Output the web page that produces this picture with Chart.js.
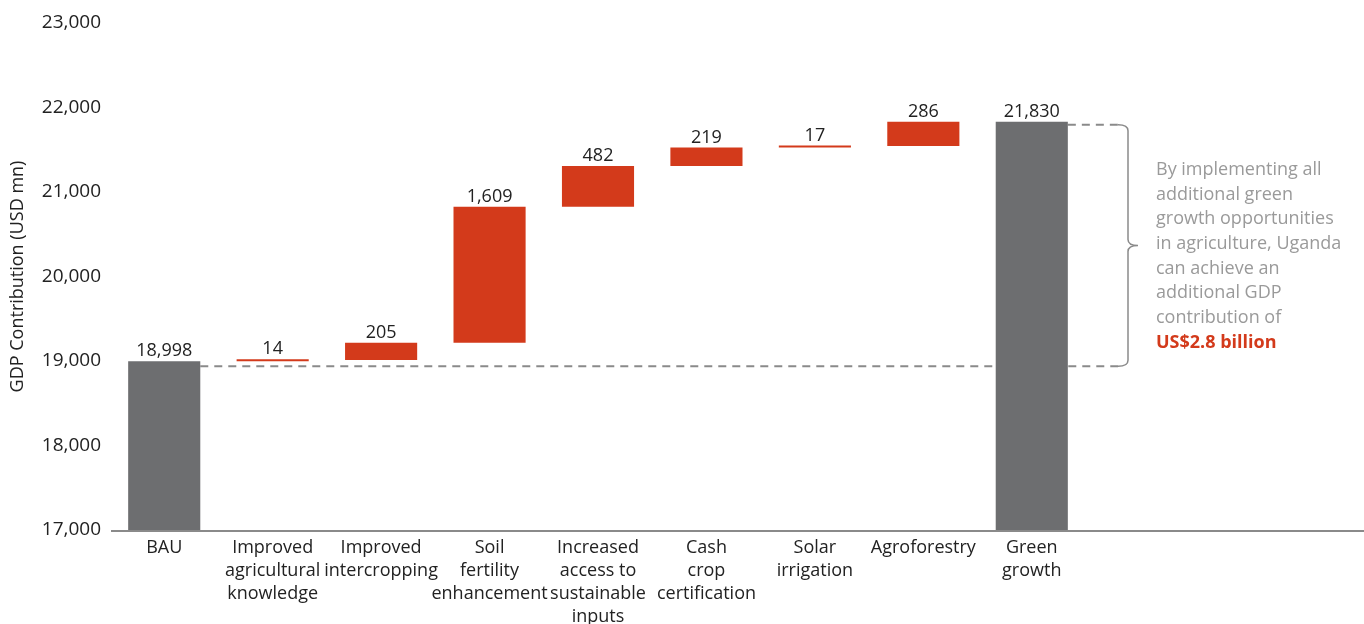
<!DOCTYPE html>
<html>
<head>
<meta charset="utf-8">
<script src="https://cdn.jsdelivr.net/npm/chart.js@4/dist/chart.umd.min.js"></script>
<style>
  body { margin: 0; background: #fff; }
</style>
</head>
<body>
<canvas id="gdpChart" width="1364" height="624"></canvas>
<script>
// categories on the x axis (multi line labels)
let categories = [
    'BAU',
    ['Improved', 'agricultural', 'knowledge'],
    ['Improved', 'intercropping'],
    ['Soil', 'fertility', 'enhancement'],
    ['Increased', 'access to', 'sustainable', 'inputs'],
    ['Cash', 'crop', 'certification'],
    ['Solar', 'irrigation'],
    'Agroforestry',
    ['Green', 'growth']
];

// starting total, each opportunity's contribution and the final total (USD mn)
let bauValue = 18998;
let increments = [14, 205, 1609, 482, 219, 17, 286];
let greenValue = 21830;

// y axis ticks
let yTicks = [17000, 18000, 19000, 20000, 21000, 22000, 23000];

let noteLines = [
    'By implementing all',
    'additional green',
    'growth opportunities',
    'in agriculture, Uganda',
    'can achieve an',
    'additional GDP',
    'contribution of'
];
let noteHighlight = 'US$2.8 billion';

const GRAY = '#6d6e70';
const RED = '#d33a1b';
const LINE_GRAY = '#8a8a8a';
const FONT = "'Open Sans', sans-serif";

// build the floating bars for the waterfall
let barData = [bauValue];
let barLabels = [bauValue];
let barColors = [GRAY];
let running = bauValue;
for (let i = 0; i < increments.length; i++) {
    barData.push([running, running + increments[i]]);
    barLabels.push(increments[i]);
    barColors.push(RED);
    running += increments[i];
}
barData.push(greenValue);
barLabels.push(greenValue);
barColors.push(GRAY);

// value labels above each bar + the x axis line
let labelPlugin = {
    id: 'labelPlugin',
    afterDatasetsDraw(chart) {
        let ctx = chart.ctx;
        let meta = chart.getDatasetMeta(0);
        ctx.save();
        ctx.font = '18px ' + FONT;
        ctx.fillStyle = '#222';
        ctx.textAlign = 'center';
        ctx.textBaseline = 'bottom';
        meta.data.forEach((bar, i) => {
            let top = Math.min(bar.y, bar.base);
            ctx.fillText(barLabels[i].toLocaleString('en-US'), bar.x, top - 1);
        });
        // x axis line runs on to the right edge
        let area = chart.chartArea;
        ctx.strokeStyle = LINE_GRAY;
        ctx.lineWidth = 2;
        ctx.beginPath();
        ctx.moveTo(area.left + 1, area.bottom + 1);
        ctx.lineTo(chart.width, area.bottom + 1);
        ctx.stroke();
        ctx.restore();
    }
};

// dashed guides, bracket and the note on the right
let notePlugin = {
    id: 'notePlugin',
    beforeDatasetsDraw(chart) {
        let ctx = chart.ctx;
        let meta = chart.getDatasetMeta(0);
        let first = meta.data[0];
        let last = meta.data[meta.data.length - 1];
        let yScale = chart.scales.y;
        let bx = chart.chartArea.right + 42;
        let yTop = yScale.getPixelForValue(greenValue) + 3;
        let yBottom = yScale.getPixelForValue(bauValue) + 5;

        ctx.save();
        ctx.strokeStyle = LINE_GRAY;
        ctx.lineWidth = 2;
        ctx.setLineDash([8, 6]);
        ctx.beginPath();
        ctx.moveTo(first.x + first.width / 2, yBottom);
        ctx.lineTo(bx - 10, yBottom);
        ctx.moveTo(last.x + last.width / 2, yTop);
        ctx.lineTo(bx - 10, yTop);
        ctx.stroke();
        ctx.restore();
    },
    afterDraw(chart) {
        let ctx = chart.ctx;
        let yScale = chart.scales.y;
        let bx = chart.chartArea.right + 42;
        let yTop = yScale.getPixelForValue(greenValue) + 3;
        let yBottom = yScale.getPixelForValue(bauValue) + 5;
        let mid = (yTop + yBottom) / 2;

        ctx.save();
        ctx.strokeStyle = LINE_GRAY;
        ctx.lineWidth = 1.5;
        ctx.beginPath();
        ctx.moveTo(bx - 10, yTop);
        ctx.quadraticCurveTo(bx, yTop, bx, yTop + 6);
        ctx.lineTo(bx, mid - 6);
        ctx.quadraticCurveTo(bx, mid, bx + 10, mid);
        ctx.quadraticCurveTo(bx, mid, bx, mid + 6);
        ctx.lineTo(bx, yBottom - 6);
        ctx.quadraticCurveTo(bx, yBottom, bx - 10, yBottom);
        ctx.stroke();

        // note text
        let tx = bx + 28;
        let ty = yTop + 45;
        let step = 24.7;
        ctx.textAlign = 'left';
        ctx.textBaseline = 'middle';
        ctx.font = '18px ' + FONT;
        ctx.fillStyle = '#9a9a9a';
        noteLines.forEach((line, i) => {
            ctx.fillText(line, tx, ty + i * step);
        });
        ctx.font = 'bold 18px ' + FONT;
        ctx.fillStyle = RED;
        ctx.fillText(noteHighlight, tx, ty + noteLines.length * step);
        ctx.restore();
    }
};

let ctx = document.getElementById('gdpChart').getContext('2d');

let gdpChart = new Chart(ctx, {
    type: 'bar',
    data: {
        labels: categories,
        datasets: [{
            data: barData,
            backgroundColor: barColors,
            borderWidth: 0,
            barPercentage: 0.665,
            categoryPercentage: 1,
            minBarLength: 2
        }]
    },
    options: {
        responsive: false,
        animation: false,
        layout: {
            padding: { top: 23, right: 278, left: 0, bottom: 0 }
        },
        plugins: {
            legend: { display: false },
            tooltip: { enabled: false }
        },
        scales: {
            x: {
                grid: { display: false, drawTicks: false },
                border: { display: false },
                ticks: {
                    color: '#222',
                    font: { family: FONT, size: 18, lineHeight: 1.28 },
                    padding: 6,
                    autoSkip: false,
                    maxRotation: 0,
                    minRotation: 0
                },
                afterFit(scale) {
                    scale.height = 94;
                }
            },
            y: {
                min: yTicks[0],
                max: yTicks[yTicks.length - 1],
                grid: { display: false, drawTicks: false },
                border: { display: false },
                afterBuildTicks(scale) {
                    scale.ticks = yTicks.map(v => ({ value: v }));
                },
                ticks: {
                    color: '#222',
                    font: { family: FONT, size: 19 },
                    padding: 9
                },
                title: {
                    display: true,
                    text: 'GDP Contribution (USD mn)',
                    color: '#222',
                    font: { family: FONT, size: 18 },
                    padding: { top: 7, bottom: 0 }
                },
                afterFit(scale) {
                    scale.width = 110;
                }
            }
        }
    },
    plugins: [labelPlugin, notePlugin]
});
</script>
</body>
</html>
